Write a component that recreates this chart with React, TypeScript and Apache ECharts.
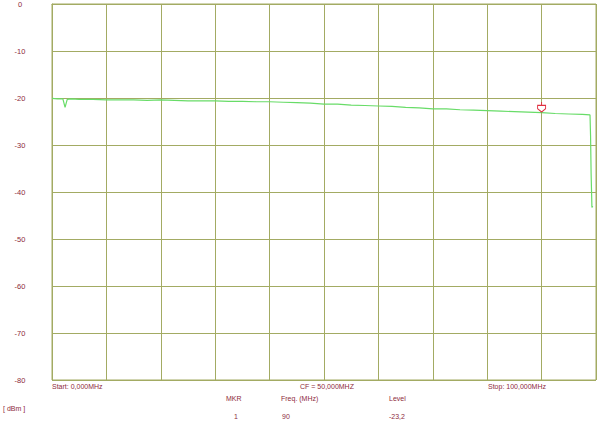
import React, { useEffect, useRef } from "react";
import * as echarts from "echarts";

const freqMHz = [0, 1, 2, 2.4, 2.8, 3.5, 5, 7.5, 10, 12.5, 15, 17.5, 20, 22.5, 25, 27.5, 30, 32.5, 35, 37.5, 40, 42.5, 45, 47.5, 50, 52.5, 55, 57.5, 60, 62.5, 65, 67.5, 70, 72.5, 75, 77.5, 80, 82.5, 85, 87.5, 90, 92.5, 95, 97.5, 98.9, 99.0, 99.1, 99.25, 99.4];
const levelDbm = [-20.1, -20.2, -20.2, -22.0, -20.3, -20.2, -20.3, -20.3, -20.4, -20.4, -20.4, -20.5, -20.4, -20.5, -20.6, -20.6, -20.6, -20.7, -20.7, -20.8, -20.8, -20.9, -21.0, -21.1, -21.3, -21.3, -21.5, -21.6, -21.7, -21.8, -22.0, -22.1, -22.3, -22.3, -22.5, -22.6, -22.7, -22.8, -22.9, -23.0, -23.1, -23.3, -23.4, -23.5, -23.6, -28.0, -36.0, -43.3, -43.0];
const yTicks = [0, -10, -20, -30, -40, -50, -60, -70, -80];
const markerFreq = 90;
const markerLevel = -23.2;
const footerTexts = {
  start: "Start: 0,000MHz",
  cf: "CF = 50,000MHZ",
  stop: "Stop: 100,000MHz",
  unit: "[ dBm ]",
  mkrHead: "MKR",
  freqHead: "Freq. (MHz)",
  levelHead: "Level",
  mkr: "1",
  freq: "90",
  level: "-23,2",
};

const GRID = "#a3ab63";
const TXT = "#8e2b3c";
const FONT = "'Liberation Sans', Arial, sans-serif";

export default function App() {
  const ref = useRef<HTMLDivElement>(null);
  useEffect(() => {
    if (!ref.current) return;
    const chart = echarts.init(ref.current, null, { renderer: "svg" });
    const data = freqMHz.map((f, i) => [f, levelDbm[i]]);
    const txt = (text: string, x: number, y: number, align: string = "left") => ({
      type: "text",
      x,
      y,
      style: { text, fill: TXT, font: `7px ${FONT}`, textAlign: align, textVerticalAlign: "middle" },
    });
    chart.setOption({
      animation: false,
      backgroundColor: "#ffffff",
      grid: { left: 52, top: 3, width: 544, height: 377, show: true, borderColor: GRID, borderWidth: 1 },
      xAxis: {
        type: "value",
        min: 0,
        max: 100,
        interval: 10,
        axisLabel: { show: false },
        axisTick: { show: false },
        axisLine: { show: true, lineStyle: { color: GRID } },
        splitLine: { show: true, lineStyle: { color: GRID, width: 1 } },
      },
      yAxis: {
        type: "value",
        min: -80,
        max: 0,
        interval: 10,
        axisLabel: {
          color: TXT,
          fontSize: 7.5,
          fontFamily: FONT,
          align: "center",
          margin: 32,
          formatter: (v: number) => (yTicks.includes(v) ? String(v) : ""),
        },
        axisTick: { show: false },
        axisLine: { show: true, lineStyle: { color: GRID } },
        splitLine: { show: true, lineStyle: { color: GRID, width: 1 } },
      },
      series: [
        {
          type: "line",
          data,
          showSymbol: false,
          lineStyle: { color: "#68dc68", width: 1.2 },
          itemStyle: { color: "#68dc68" },
          markPoint: {
            silent: true,
            data: [
              {
                coord: [markerFreq, markerLevel],
                itemStyle: { color: "#ffffff", borderColor: "#e03040", borderWidth: 1 },
              },
            ],
            symbol: "path://M4,0 L4,3 M1,3 L7,3 L7,6 L4,9 L1,6 Z",
            symbolSize: [8, 10],
            symbolOffset: [0, -6],
            itemStyle: { color: "#ffffff", borderColor: "#e03040", borderWidth: 1 },
            label: { show: false },
          },
        },
      ],
      graphic: [
        txt(footerTexts.start, 52, 386),
        txt(footerTexts.cf, 327, 386, "center"),
        txt(footerTexts.stop, 488, 386),
        txt(footerTexts.unit, 3, 408),
        txt(footerTexts.mkrHead, 226, 398),
        txt(footerTexts.freqHead, 281, 398),
        txt(footerTexts.levelHead, 389, 398),
        txt(footerTexts.mkr, 234, 416),
        txt(footerTexts.freq, 282, 416),
        txt(footerTexts.level, 389, 416),
      ],
    });
    return () => chart.dispose();
  }, []);
  return (
    <div
      ref={ref}
      style={{ position: "fixed", left: 0, top: 0, width: 600, height: 423, background: "#fff" }}
    />
  );
}
